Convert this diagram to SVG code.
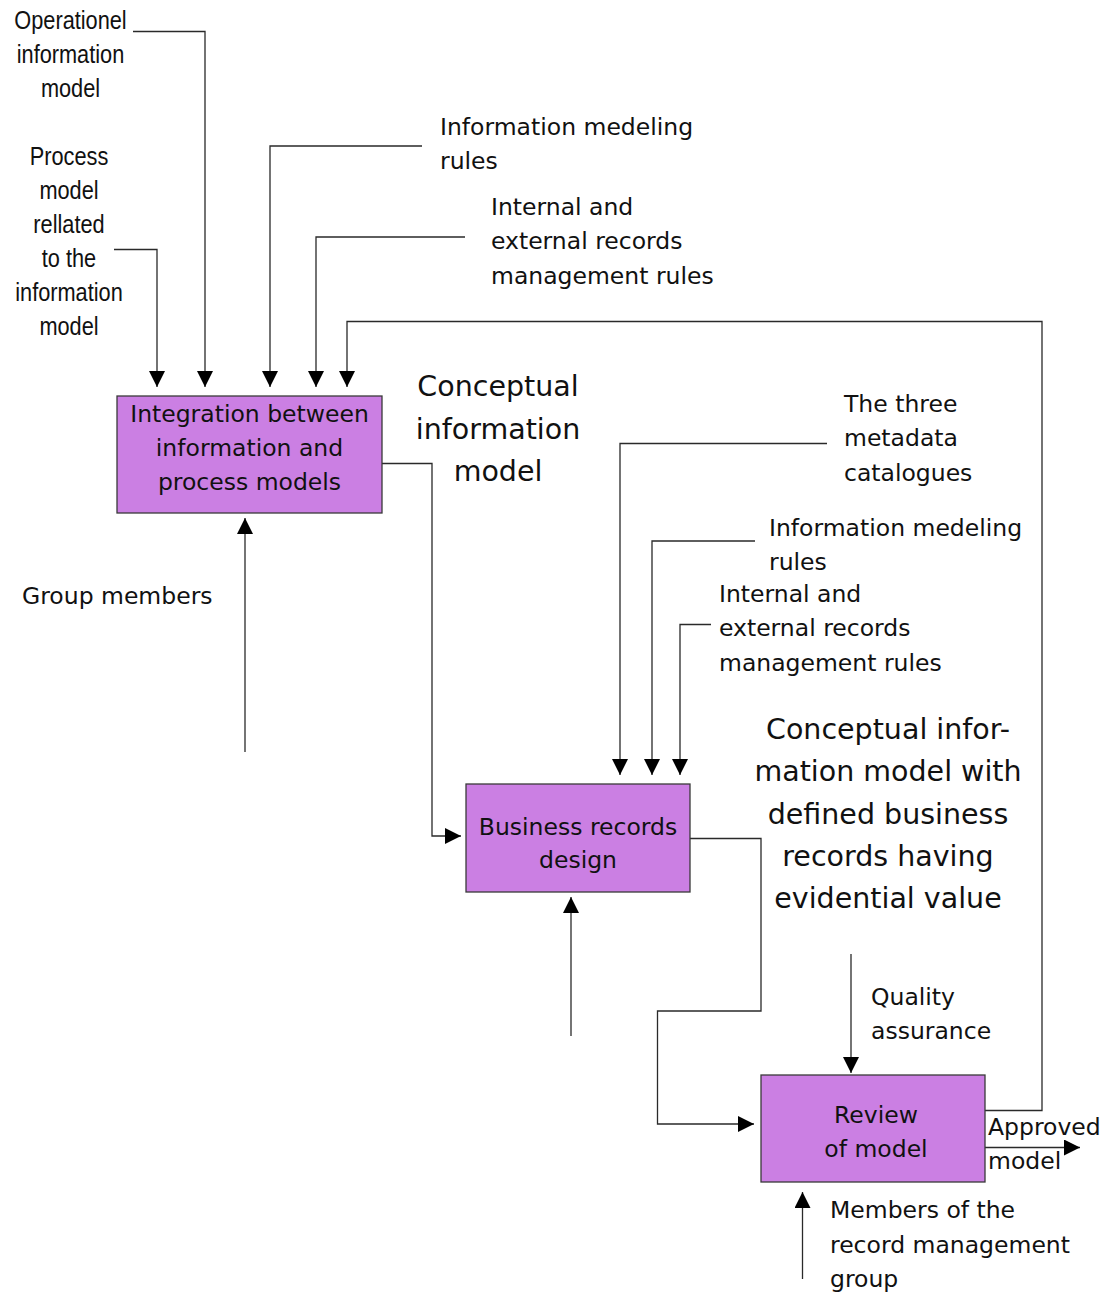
<svg xmlns="http://www.w3.org/2000/svg" width="1109" height="1294" viewBox="0 0 1109 1294">
  <style>
    .box { fill: #cb7fe3; stroke: #3a3a3a; stroke-width: 1.3; }
    .wire { fill: none; stroke: #2a2a2a; stroke-width: 1.3; }
    .arrow { marker-end: url(#head); }
    text { font-family: "DejaVu Sans", "Liberation Sans", sans-serif; fill: #111; }
    .lbl { font-size: 23.5px; }
    .big { font-size: 28.5px; text-anchor: middle; }
    .in { font-size: 23.5px; text-anchor: middle; }
    .narrow { font-family: "Liberation Sans", Arial, sans-serif; font-size: 25px; text-anchor: middle; }
  </style>
  <defs>
    <marker id="head" markerUnits="userSpaceOnUse" markerWidth="17" markerHeight="16" refX="16" refY="8" orient="auto">
      <path d="M0,0 L16,8 L0,16 Z" fill="#000"/>
    </marker>
  </defs>

  <rect width="1109" height="1294" fill="#fff"/>

  <!-- connectors -->
  <g id="connectors">
    <!-- inputs/controls into the integration activity -->
    <polyline class="wire arrow" points="133,31.5 205,31.5 205,387"/>
    <polyline class="wire arrow" points="114,249.5 157,249.5 157,387"/>
    <polyline class="wire arrow" points="422,146 270,146 270,387"/>
    <polyline class="wire arrow" points="465,237 316,237 316,387"/>
    <!-- feedback from review back to integration -->
    <polyline class="wire arrow" points="985,1110.5 1042,1110.5 1042,321.5 347,321.5 347,387"/>
    <!-- mechanism: group members -->
    <line class="wire arrow" x1="245" y1="752" x2="245" y2="518"/>
    <!-- integration -> business records design -->
    <polyline class="wire arrow" points="382,463.5 432,463.5 432,836 461,836"/>
    <!-- controls into business records design -->
    <polyline class="wire arrow" points="827,443.5 620,443.5 620,775"/>
    <polyline class="wire arrow" points="755,541 652,541 652,775"/>
    <polyline class="wire arrow" points="711,624.5 680,624.5 680,775"/>
    <!-- mechanism into business records design -->
    <line class="wire arrow" x1="571" y1="1036" x2="571" y2="897"/>
    <!-- business records design -> review -->
    <polyline class="wire arrow" points="690,838.5 761,838.5 761,1011 657.5,1011 657.5,1124 754,1124"/>
    <!-- quality assurance control -->
    <line class="wire arrow" x1="851" y1="954" x2="851" y2="1073"/>
    <!-- output: approved model -->
    <line class="wire arrow" x1="985" y1="1147.5" x2="1080" y2="1147.5"/>
    <!-- mechanism: record management group -->
    <line class="wire arrow" x1="802.5" y1="1279" x2="802.5" y2="1192"/>
  </g>

  <!-- activity boxes -->
  <g id="integration">
    <rect class="box" x="117" y="396" width="265" height="117"/>
    <text class="in" x="249.5" y="422">Integration between</text>
    <text class="in" x="249.5" y="456">information and</text>
    <text class="in" x="249.5" y="490">process models</text>
  </g>

  <g id="business-records-design">
    <rect class="box" x="466" y="784" width="224" height="108"/>
    <text class="in" x="578" y="835">Business records</text>
    <text class="in" x="578" y="868">design</text>
  </g>

  <g id="review">
    <rect class="box" x="761" y="1075" width="224" height="107"/>
    <text class="in" x="876" y="1123">Review</text>
    <text class="in" x="876" y="1157">of model</text>
  </g>

  <!-- labels (condensed: narrowed horizontally) -->
  <g id="label-operational" transform="translate(70.5,0) scale(0.87,1)">
    <text class="narrow" x="0" y="29">Operationel</text>
    <text class="narrow" x="0" y="63">information</text>
    <text class="narrow" x="0" y="97">model</text>
  </g>

  <g id="label-process-model" transform="translate(69,0) scale(0.87,1)">
    <text class="narrow" x="0" y="165.5">Process</text>
    <text class="narrow" x="0" y="199.5">model</text>
    <text class="narrow" x="0" y="233.5">rellated</text>
    <text class="narrow" x="0" y="267.5">to the</text>
    <text class="narrow" x="0" y="301.5">information</text>
    <text class="narrow" x="0" y="335.5">model</text>
  </g>

  <g id="label-modeling-rules-1">
    <text class="lbl" x="440" y="134.5">Information medeling</text>
    <text class="lbl" x="440" y="168.5">rules</text>
  </g>

  <g id="label-records-rules-1">
    <text class="lbl" x="491" y="214.5">Internal and</text>
    <text class="lbl" x="491" y="249">external records</text>
    <text class="lbl" x="491" y="283.5">management rules</text>
  </g>

  <g id="label-conceptual-model">
    <text class="big" x="498" y="396">Conceptual</text>
    <text class="big" x="498" y="438.5">information</text>
    <text class="big" x="498" y="481">model</text>
  </g>

  <g id="label-group-members">
    <text class="lbl" x="22" y="603.5">Group members</text>
  </g>

  <g id="label-metadata">
    <text class="lbl" x="844" y="411.5">The three</text>
    <text class="lbl" x="844" y="446">metadata</text>
    <text class="lbl" x="844" y="480.5">catalogues</text>
  </g>

  <g id="label-modeling-rules-2">
    <text class="lbl" x="769" y="536">Information medeling</text>
    <text class="lbl" x="769" y="570">rules</text>
  </g>

  <g id="label-records-rules-2">
    <text class="lbl" x="719" y="601.5">Internal and</text>
    <text class="lbl" x="719" y="636">external records</text>
    <text class="lbl" x="719" y="670.5">management rules</text>
  </g>

  <g id="label-defined-model">
    <text class="big" x="888" y="739">Conceptual infor-</text>
    <text class="big" x="888" y="781">mation model with</text>
    <text class="big" x="888" y="823.5">defined business</text>
    <text class="big" x="888" y="866">records having</text>
    <text class="big" x="888" y="908">evidential value</text>
  </g>

  <g id="label-quality">
    <text class="lbl" x="871" y="1005">Quality</text>
    <text class="lbl" x="871" y="1039">assurance</text>
  </g>

  <g id="label-approved">
    <text class="lbl" x="988" y="1135">Approved</text>
    <text class="lbl" x="988" y="1169">model</text>
  </g>

  <g id="label-members">
    <text class="lbl" x="830" y="1218">Members of the</text>
    <text class="lbl" x="830" y="1252.5">record management</text>
    <text class="lbl" x="830" y="1287">group</text>
  </g>
</svg>
